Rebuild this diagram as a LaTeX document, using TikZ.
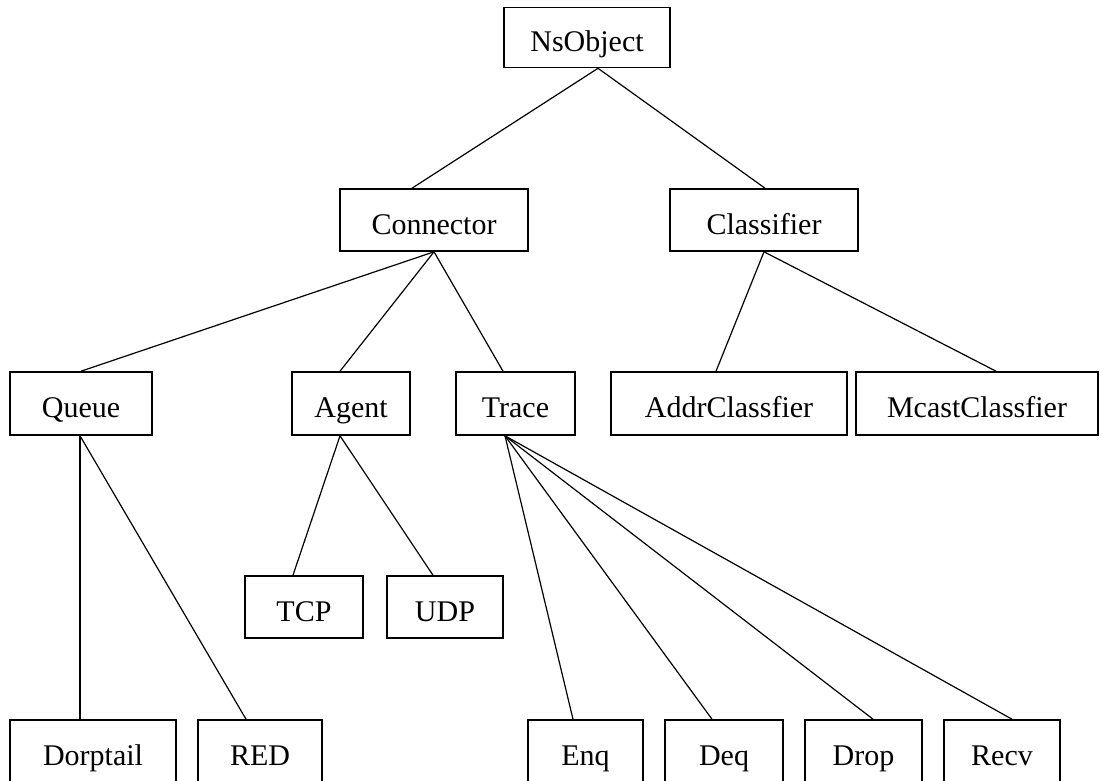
\documentclass[tikz,border=0pt]{standalone}
\usepackage{fontspec}
\setmainfont{Liberation Serif}
\begin{document}
\begin{tikzpicture}[x=1pt,y=-1pt,
  cls/.style={draw, line width=1.6pt, inner sep=0pt, minimum height=62pt,
    text height=28pt, text depth=0pt,
    font=\fontsize{30}{36}\selectfont},
  link/.style={line width=1.2pt}]
\clip (0,0) rectangle (1102,780);
\fill[white] (0,0) rectangle (1102,780);

% level 0
\node[cls, minimum width=166pt, minimum height=60pt] (ns) at (587,37.5) {NsObject};
% level 1
\node[cls, minimum width=188pt] (con) at (434,220) {Connector};
\node[cls, minimum width=188pt] (clf) at (764,220) {Classifier};
% level 2
\node[cls, minimum width=142pt, minimum height=63pt] (que) at (81,403.5) {Queue};
\node[cls, minimum width=118pt, minimum height=63pt] (agt) at (351,403.5) {Agent};
\node[cls, minimum width=119pt, minimum height=63pt] (trc) at (515.5,403.5) {Trace};
\node[cls, minimum width=236pt, minimum height=63pt] (addr) at (729,403.5) {AddrClassfier};
\node[cls, minimum width=242pt, minimum height=63pt] (mcast) at (977,403.5) {McastClassfier};
% level 3
\node[cls, minimum width=118pt] (tcp) at (304,607) {TCP};
\node[cls, minimum width=116pt] (udp) at (445,607) {UDP};
% level 4
\node[cls, minimum width=166pt] (dorp) at (93,751) {Dorptail};
\node[cls, minimum width=124pt] (red) at (260,751) {RED};
\node[cls, minimum width=115pt] (enq) at (585.5,751) {Enq};
\node[cls, minimum width=118pt] (deq) at (724,751) {Deq};
\node[cls, minimum width=117pt] (drop) at (863.5,751) {Drop};
\node[cls, minimum width=116pt] (recv) at (1002,751) {Recv};

% inheritance links
\draw[link] ([xshift=11pt]ns.south) -- ([xshift=-22pt]con.north);
\draw[link] ([xshift=11pt]ns.south) -- ([xshift=1pt]clf.north);
\draw[link] (con.south) -- (que.north);
\draw[link] (con.south) -- ([xshift=-11pt]agt.north);
\draw[link] (con.south) -- ([xshift=-12.5pt]trc.north);
\draw[link] (clf.south) -- ([xshift=-13pt]addr.north);
\draw[link] (clf.south) -- ([xshift=19pt]mcast.north);
\draw[link] ([xshift=-1pt]que.south) -- ([xshift=-13pt]dorp.north);
\draw[link] ([xshift=-1pt]que.south) -- ([xshift=-14pt]red.north);
\draw[link] ([xshift=-11pt]agt.south) -- ([xshift=-11pt]tcp.north);
\draw[link] ([xshift=-11pt]agt.south) -- ([xshift=-12pt]udp.north);
\draw[link] ([xshift=-10.5pt]trc.south) -- ([xshift=-12.5pt]enq.north);
\draw[link] ([xshift=-10.5pt]trc.south) -- ([xshift=-12pt]deq.north);
\draw[link] ([xshift=-10.5pt]trc.south) -- ([xshift=9.5pt]drop.north);
\draw[link] ([xshift=-10.5pt]trc.south) -- ([xshift=10pt]recv.north);
\end{tikzpicture}
\end{document}
